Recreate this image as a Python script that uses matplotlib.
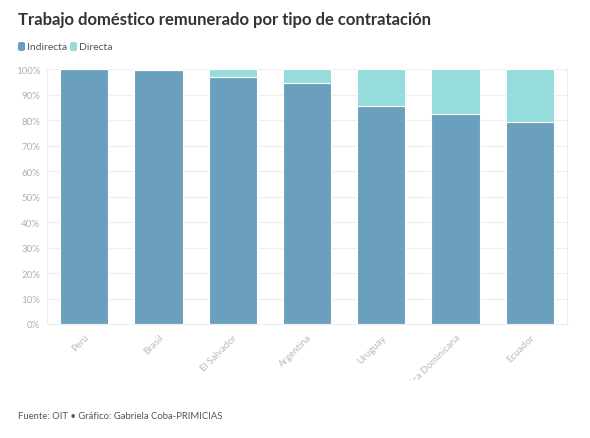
import matplotlib
matplotlib.use("Agg")
import matplotlib.pyplot as plt
from matplotlib.patches import FancyBboxPatch
from matplotlib.transforms import Bbox
import numpy as np

plt.rcParams['font.family'] = ['Lato', 'DejaVu Sans']

countries = ["Perú", "Brasil", "El Salvador", "Argentina", "Uruguay", "República Dominicana", "Ecuador"]
indirecta = [100.0, 99.6, 97.0, 94.6, 85.7, 82.4, 79.5]
directa = [0.0, 0.4, 3.0, 5.4, 14.3, 17.6, 20.5]
yticks = [0, 10, 20, 30, 40, 50, 60, 70, 80, 90, 100]

c_ind = "#6a9fbe"
c_dir = "#95dcdc"

W, H = 590, 439
fig = plt.figure(figsize=(W/100, H/100), dpi=100)
ax = fig.add_axes([47/W, (H-325)/H, (567-47)/W, (325-70.3)/H])

x = np.arange(len(countries))
ax.bar(x, indirecta, width=0.65, color=c_ind, edgecolor="white", linewidth=0.8, zorder=2)
ax.bar(x, directa, bottom=indirecta, width=0.65, color=c_dir, edgecolor="white", linewidth=0.8, zorder=2)

ax.set_xlim(-0.5, len(countries) - 0.5)
ax.set_ylim(0, 100)
ax.set_yticks(yticks)
ax.set_yticklabels([f"{v}%" for v in yticks], fontsize=7, color="#b0b0b0")
ax.yaxis.grid(True, color="#eeeeee", linewidth=0.8, zorder=0)
ax.tick_params(axis='y', length=0, pad=5)
ax.tick_params(axis='x', length=0, pad=6)
ax.set_xticks(x)
labels = ax.set_xticklabels(countries, rotation=45, ha="right", va="top",
                            rotation_mode="anchor", fontsize=7, color="#bbbbbb")
ax.spines["top"].set_visible(False)
for s in ["left", "right", "bottom"]:
    ax.spines[s].set_color("#eeeeee")
    ax.spines[s].set_linewidth(0.8)

clip = Bbox.from_extents(0, H - 381, W, H - 326)
for lab in labels:
    lab.set_clip_box(clip)
    lab.set_clip_on(True)

fig.text(18/W, 1 - 20.5/H, "Trabajo doméstico remunerado por tipo de contratación",
         fontsize=12, fontweight="bold", color="#333333", va="center", ha="left")

# legend
for (lx, txt, col) in [(18, "Indirecta", c_ind), (70, "Directa", c_dir)]:
    p = FancyBboxPatch((lx/W, 1 - 52/H), 7/W, 9/H,
                       boxstyle="round,pad=0,rounding_size=0.004",
                       transform=fig.transFigure, facecolor=col, edgecolor="none")
    fig.patches.append(p)
    fig.text((lx + 9)/W, 1 - 47.5/H, txt, fontsize=7.5, color="#555555", va="center", ha="left")

fig.text(18/W, 1 - 417/H, "Fuente: OIT • Gráfico: Gabriela Coba-PRIMICIAS",
         fontsize=6.8, color="#555555", va="center", ha="left")

fig.savefig("out.png", dpi=100, facecolor="white")
